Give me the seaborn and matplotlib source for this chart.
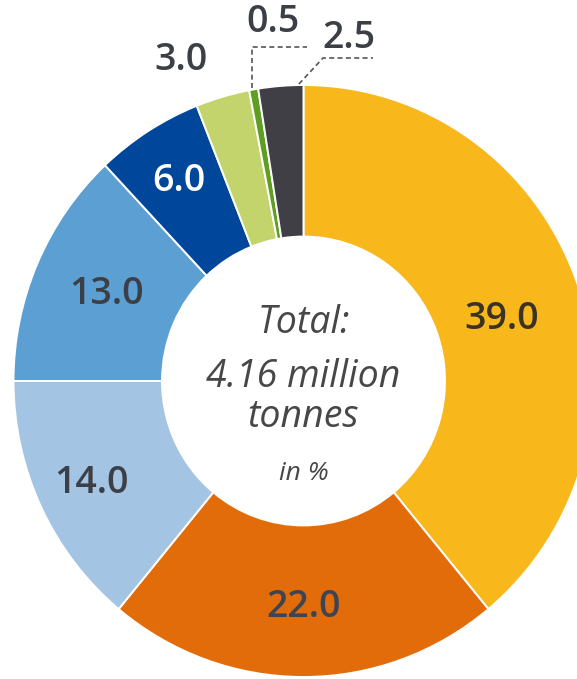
import numpy as np
import matplotlib
matplotlib.use("Agg")
import matplotlib.pyplot as plt
import seaborn as sns

# ---- data ----
categories = ["Cat A", "Cat B", "Cat C", "Cat D", "Cat E", "Cat F", "Cat G", "Cat H"]
shares = [39.0, 22.0, 14.0, 13.0, 6.0, 3.0, 0.5, 2.5]
value_labels = ["39.0", "22.0", "14.0", "13.0", "6.0", "3.0", "0.5", "2.5"]
colors = ["#F8B81C", "#E26C0A", "#A4C4E4", "#5B9FD3", "#00469A", "#C3D46C", "#5E9E22", "#403F46"]
label_colors = ["#3a3222", "#3e4452", "#3c3f46", "#3c3f46", "#ffffff", "#3c3f46", "#3c3f46", "#3c3f46"]
center_lines = ["Total:", "4.16 million", "tonnes"]
unit_text = "in %"

sns.set_theme(style="white")
plt.rcParams["font.family"] = ["Open Sans", "DejaVu Sans"]

W, H = 577, 679
S = 296.0 / 290.0          # slight vertical stretch of the reference donut


def Y(p):
    """pixel row (from top) -> data y"""
    return -p / S


fig = plt.figure(figsize=(W / 100, H / 100), dpi=100)
ax = fig.add_axes([0, 0, 1, 1])

cx, cy, R, r_in = 303.5, Y(381.0), 290.0, 141.5
wedges, _ = ax.pie(
    shares, colors=colors, startangle=90, counterclock=False,
    center=(cx, cy), radius=R, frame=True,
    wedgeprops=dict(width=R - r_in, edgecolor="white", linewidth=1.4),
)
ax.set_aspect("auto")
ax.set_xlim(0, W)
ax.set_ylim(Y(H), 0)
ax.axis("off")

# inside labels placed along each wedge's (slightly shifted) mid angle
inside_r = [0.715, 0.765, 0.81, 0.74, 0.80]
angle_frac = [0.48, 0.5, 0.5, 0.5, 0.5]
for i in range(5):
    w = wedges[i]
    mid = np.deg2rad(w.theta1 + (w.theta2 - w.theta1) * angle_frac[i])
    x = cx + inside_r[i] * R * np.cos(mid)
    y = cy + inside_r[i] * R * np.sin(mid)
    ax.text(x, y, value_labels[i], ha="center", va="center", fontsize=27,
            fontweight="semibold", color=label_colors[i])


def ang_pt(w, frac, rr):
    a = np.deg2rad(w.theta1 + (w.theta2 - w.theta1) * frac)
    return cx + rr * np.cos(a), cy + rr * np.sin(a)


# 3.0 (outside)
ax.text(181, Y(60), value_labels[5], ha="center", va="center", fontsize=27,
        fontweight="semibold", color=label_colors[5])

# 0.5 with elbow leader
w = wedges[6]
px, py = ang_pt(w, 0.5, R + 1)
ax.plot([252, 252, 307], [py, Y(47), Y(47)], ls=(0, (3, 2)), color="#555555", lw=1.2)
ax.text(273, Y(22), value_labels[6], ha="center", va="center", fontsize=27,
        fontweight="semibold", color=label_colors[6])

# 2.5 with diagonal leader
w = wedges[7]
px, py = ang_pt(w, 0.1, R + 1)
ax.plot([px, 323, 373], [py, Y(58), Y(58)], ls=(0, (3, 2)), color="#555555", lw=1.2)
ax.text(349, Y(38), value_labels[7], ha="center", va="center", fontsize=27,
        fontweight="semibold", color=label_colors[7])

# centre text
baselines = [333, 387, 427]
for t, yb in zip(center_lines, baselines):
    ax.text(cx, Y(yb), t, ha="center", va="baseline", fontsize=27, style="italic",
            color="#474747")
ax.text(cx, Y(480), unit_text, ha="center", va="baseline", fontsize=19, style="italic",
        color="#474747")

fig.savefig("out.png", dpi=100, facecolor="white")
